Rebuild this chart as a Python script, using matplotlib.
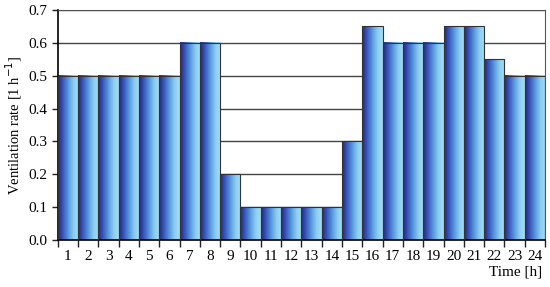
import numpy as np
import matplotlib
matplotlib.use('Agg')
import matplotlib.pyplot as plt
from matplotlib.colors import LinearSegmentedColormap

hours = list(range(1, 25))
rate = [0.5, 0.5, 0.5, 0.5, 0.5, 0.5, 0.6, 0.6, 0.2, 0.1, 0.1, 0.1,
        0.1, 0.1, 0.3, 0.65, 0.6, 0.6, 0.6, 0.65, 0.65, 0.55, 0.5, 0.5]

plt.rcParams['font.family'] = ['Liberation Serif', 'DejaVu Serif']

cmap = LinearSegmentedColormap.from_list(
    'bar', ['#25257e', '#3a5cc0', '#5a9be0', '#8ccdf0', '#a6dcf4'])
grad = np.linspace(0, 1, 64).reshape(1, -1)

fig = plt.figure(figsize=(5.5, 2.87), dpi=100)
ax = fig.add_axes([0.105, 0.164, 0.886, 0.801])

for y in np.arange(0.1, 0.71, 0.1):
    ax.axhline(y, color='#444444', lw=1.0, zorder=1)

bars = ax.bar(hours, rate, width=1.0, color='none', edgecolor='#333333',
              lw=0.8, zorder=3)
for b in bars:
    x0 = b.get_x()
    ax.imshow(grad, cmap=cmap, aspect='auto', zorder=2,
              extent=[x0, x0 + b.get_width(), 0, b.get_height()])

ax.set_xlim(0.5, 24.5)
ax.set_ylim(0, 0.7)
ax.set_yticks(np.arange(0, 0.71, 0.1))
ax.set_yticklabels([f'{v:.1f}' for v in np.arange(0, 0.71, 0.1)])
ax.set_xticks(np.arange(0.5, 25, 1.0))
ax.set_xticklabels([])
ax.set_xticks(hours, minor=True)
ax.set_xticklabels([str(h) for h in hours], minor=True)
ax.tick_params(axis='x', which='major', length=5, width=1, color='#222222')
ax.tick_params(axis='x', which='minor', length=0, pad=7, labelsize=11)
ax.tick_params(axis='y', length=4, width=1, labelsize=11, color='#222222')

for s in ['top', 'right']:
    ax.spines[s].set_color('#555555')
ax.spines['left'].set_linewidth(1.2)
ax.spines['bottom'].set_linewidth(1.2)

ax.set_ylabel('Ventilation rate [1 h$^{-1}$]', fontsize=10.5, labelpad=3)
ax.set_xlabel('Time [h]', fontsize=11, ha='right', va='center')
ax.xaxis.set_label_coords(0.995, -0.14)

fig.savefig('out.png', dpi=100)
